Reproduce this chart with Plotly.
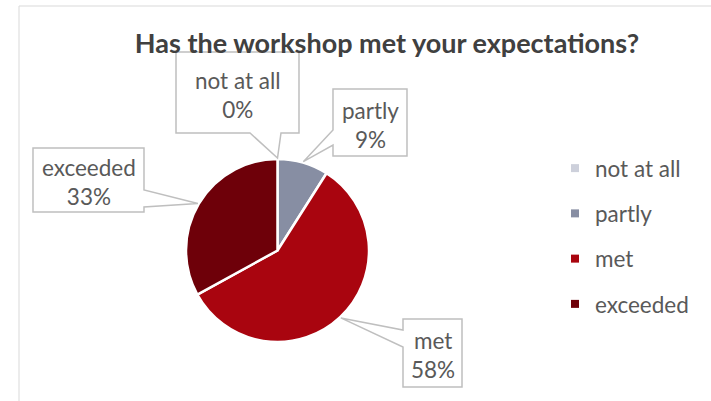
import math
import plotly.graph_objects as go

W, H = 711, 401

categories = ["not at all", "partly", "met", "exceeded"]
values = [0, 9, 58, 33]
colors = ["#CDD0DB", "#878EA3", "#A9050F", "#6E0009"]

title_text = "Has the workshop met your expectations?"

FONT = "Lato"
TXT = "#595959"
EDGE = "#BFBFBF"


def X(px):
    return px / W


def Y(py):
    return 1 - py / H


# pie placement (pixels)
cx, cy, r = 277.5, 250.5, 91.5

fig = go.Figure()
fig.add_trace(go.Pie(
    labels=categories, values=values, sort=False, direction="clockwise",
    marker=dict(colors=colors, line=dict(color="white", width=2.5)),
    textinfo="none", showlegend=False, hoverinfo="label+percent",
    domain=dict(x=[X(cx - r), X(cx + r)], y=[Y(cy + r), Y(cy - r)]),
))

# legend entries
for name, col in zip(categories, colors):
    fig.add_trace(go.Scatter(
        x=[None], y=[None], mode="markers", name=name, legendgroup=name,
        marker=dict(symbol="square", size=8, color=col),
    ))

# callout boxes: (x0, y0, x1, y1, side, base0, base1)
boxes = [
    (176, 52, 299, 133, "bottom", 250, 281),
    (333, 89, 407, 156, "left", 130, 145),
    (403, 319, 462, 387, "left", 330, 347),
    (33, 148, 144, 212, "right", 190, 207),
]

total = sum(values)
cum = 0
shapes = [dict(type="rect", xref="paper", yref="paper",
               x0=X(19), y0=Y(6), x1=1.2, y1=-0.2,
               line=dict(color="#D9D9D9", width=1), fillcolor="rgba(0,0,0,0)",
               layer="below")]
annotations = []
for name, v, (x0, y0, x1, y1, side, b0, b1) in zip(categories, values, boxes):
    ang = 2 * math.pi * (cum + v / 2) / total
    cum += v
    ax = cx + (r + 1) * math.sin(ang)
    ay = cy - (r + 1) * math.cos(ang)
    if side == "bottom":
        pts = [(x0, y0), (x1, y0), (x1, y1), (b1, y1), (ax, ay), (b0, y1), (x0, y1)]
    elif side == "left":
        pts = [(x0, y0), (x1, y0), (x1, y1), (x0, y1), (x0, b1), (ax, ay), (x0, b0)]
    else:
        pts = [(x0, y0), (x1, y0), (x1, b0), (ax, ay), (x1, b1), (x1, y1), (x0, y1)]
    path = "M " + " L ".join(f"{X(a):.5f},{Y(b):.5f}" for a, b in pts) + " Z"
    shapes.append(dict(type="path", path=path, xref="paper", yref="paper",
                       fillcolor="white", line=dict(color=EDGE, width=1.5)))
    pct = round(v / total * 100)
    annotations.append(dict(
        x=X((x0 + x1) / 2), y=Y((y0 + y1) / 2 + 2), xref="paper", yref="paper",
        xanchor="center", yanchor="middle",
        text=f"{name}<br>{pct}%", showarrow=False, align="center",
        font=dict(family=FONT, size=22.5, color=TXT),
    ))

fig.update_layout(
    width=W, height=H,
    margin=dict(l=0, r=0, t=0, b=0),
    paper_bgcolor="white", plot_bgcolor="white",
    title=dict(text=f"<b>{title_text}</b>", x=X(387), xanchor="center",
               y=Y(44), yanchor="middle",
               font=dict(family=FONT, size=27, color="#404040")),
    xaxis=dict(visible=False), yaxis=dict(visible=False),
    showlegend=True,
    legend=dict(x=X(555), y=Y(147), xanchor="left", yanchor="top",
                font=dict(family=FONT, size=22.5, color=TXT),
                tracegroupgap=13, bgcolor="rgba(0,0,0,0)"),
    shapes=shapes, annotations=annotations,
)

fig.write_html("out.html", config={"displayModeBar": False},
               post_script="document.body.style.margin='0px';")
